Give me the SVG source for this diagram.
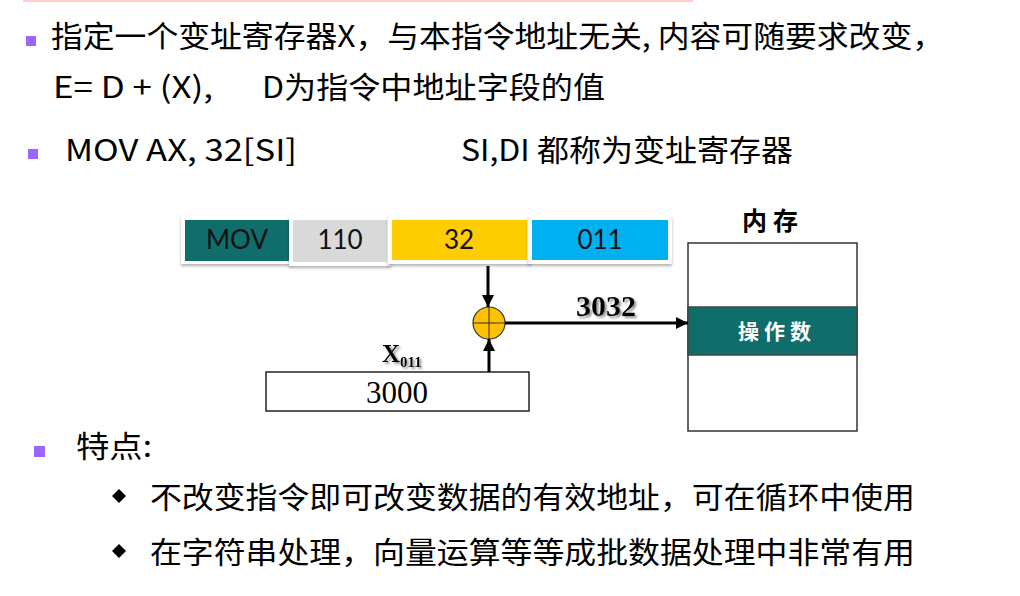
<svg xmlns="http://www.w3.org/2000/svg" width="1020" height="596" viewBox="0 0 1020 596">
<defs>
<style>
.cjk{font-family:"Noto Sans CJK SC","Microsoft YaHei",sans-serif;fill:#000}
.fld{font-family:"Lato","DejaVu Sans",sans-serif;font-size:26px;text-anchor:middle;fill:#111}
.serif{font-family:"Liberation Serif","Times New Roman",serif;fill:#000}
.bul{fill:#9966FF}
.conn{stroke:#000;stroke-width:3;fill:none}
</style>
<filter id="sh" x="-10%" y="-20%" width="120%" height="150%">
<feDropShadow dx="0" dy="2" stdDeviation="1.5" flood-color="#000" flood-opacity="0.3"/>
</filter>
<filter id="tsh" x="-10%" y="-20%" width="130%" height="150%">
<feDropShadow dx="2" dy="2" stdDeviation="0.8" flood-color="#888" flood-opacity="0.9"/>
</filter>
<marker id="ah" viewBox="0 0 10 10" refX="10" refY="5" markerWidth="4" markerHeight="4" orient="auto" markerUnits="strokeWidth">
<path d="M0,0 L10,5 L0,10 z" fill="#000"/>
</marker>
</defs>
<rect width="1020" height="596" fill="#fff"/>
<line x1="23" y1="1" x2="693" y2="1" stroke="#FFCCCC" stroke-width="2"/>

<g id="text-top">
<rect class="bul" x="26" y="36" width="10" height="10"/>
<text class="cjk" x="51" y="47" font-size="30" textLength="893" lengthAdjust="spacingAndGlyphs">指定一个变址寄存器X，与本指令地址无关, 内容可随要求改变，</text>
<text class="cjk" x="53" y="98" font-size="30" textLength="160" lengthAdjust="spacingAndGlyphs">E= D + (X),</text>
<text class="cjk" x="262" y="98" font-size="30" textLength="343" lengthAdjust="spacingAndGlyphs">D为指令中地址字段的值</text>
<rect class="bul" x="28" y="149" width="10" height="10"/>
<text class="cjk" x="65" y="161" font-size="30" textLength="232" lengthAdjust="spacingAndGlyphs">MOV AX, 32[SI]</text>
<text class="cjk" x="461" y="161" font-size="30" textLength="332" lengthAdjust="spacingAndGlyphs">SI,DI 都称为变址寄存器</text>
</g>

<g id="instr">
<rect x="181" y="216" width="112" height="48" fill="#fff" filter="url(#sh)"/>
<rect x="185" y="220" width="104" height="41" fill="#0F6E6B"/>
<text class="fld" x="237" y="249">MOV</text>
<rect x="289" y="216" width="102" height="50" fill="#fff" filter="url(#sh)"/>
<rect x="293" y="220" width="94" height="42" fill="#D9D9D9"/>
<text class="fld" x="340" y="249">110</text>
<rect x="388" y="216" width="143" height="48" fill="#fff" filter="url(#sh)"/>
<rect x="392" y="220" width="135" height="40" fill="#FFCC00"/>
<text class="fld" x="459" y="249">32</text>
<rect x="528" y="216" width="144" height="48" fill="#fff" filter="url(#sh)"/>
<rect x="532" y="220" width="136" height="40" fill="#00B0F0"/>
<text class="fld" x="600" y="249">011</text>
</g>

<g id="adder">
<circle cx="489" cy="323" r="16" fill="#FFC000" stroke="#333" stroke-width="1.2"/>
<line x1="473" y1="323" x2="505" y2="323" stroke="#333" stroke-width="1"/>
<line x1="489" y1="307" x2="489" y2="339" stroke="#333" stroke-width="1"/>
</g>

<g id="xreg">
<rect x="266" y="372" width="263" height="39" fill="#fff" stroke="#000" stroke-width="1.3"/>
<text class="serif" x="397" y="403" font-size="31" text-anchor="middle">3000</text>
<text class="serif" x="382" y="362" font-size="25" font-weight="bold" filter="url(#tsh)">X<tspan font-size="15" dy="5">011</tspan></text>
</g>

<g id="memory">
<text class="cjk" x="773" y="230" font-size="25" font-weight="bold" text-anchor="middle" letter-spacing="6">内存</text>
<rect x="688" y="243" width="169" height="188" fill="#fff" stroke="#333" stroke-width="1.5"/>
<rect x="688" y="307" width="169" height="48" fill="#0F6E6B" stroke="#444" stroke-width="1.5"/>
<text x="777" y="339" font-size="21" font-weight="bold" text-anchor="middle" letter-spacing="5" style="font-family:'Noto Sans CJK SC',sans-serif;fill:#fff">操作数</text>
</g>

<g id="connectors">
<line class="conn" x1="488" y1="266" x2="488" y2="307" marker-end="url(#ah)"/>
<line class="conn" x1="489" y1="372" x2="489" y2="339" marker-end="url(#ah)"/>
<line class="conn" x1="505" y1="323" x2="688" y2="323" marker-end="url(#ah)"/>
<text class="serif" x="576" y="316" font-size="30" font-weight="bold" filter="url(#tsh)">3032</text>
</g>

<g id="text-bottom">
<rect class="bul" x="34" y="446" width="11" height="11"/>
<text class="cjk" x="76" y="457" font-size="30" textLength="76" lengthAdjust="spacingAndGlyphs">特点:</text>
<path d="M119,489 L126,496 L119,503 L112,496 z" fill="#000"/>
<text class="cjk" x="150" y="508" font-size="30" textLength="765" lengthAdjust="spacingAndGlyphs">不改变指令即可改变数据的有效地址，可在循环中使用</text>
<path d="M119,544 L126,551 L119,558 L112,551 z" fill="#000"/>
<text class="cjk" x="150" y="563" font-size="30" textLength="765" lengthAdjust="spacingAndGlyphs">在字符串处理，向量运算等等成批数据处理中非常有用</text>
</g>
</svg>
